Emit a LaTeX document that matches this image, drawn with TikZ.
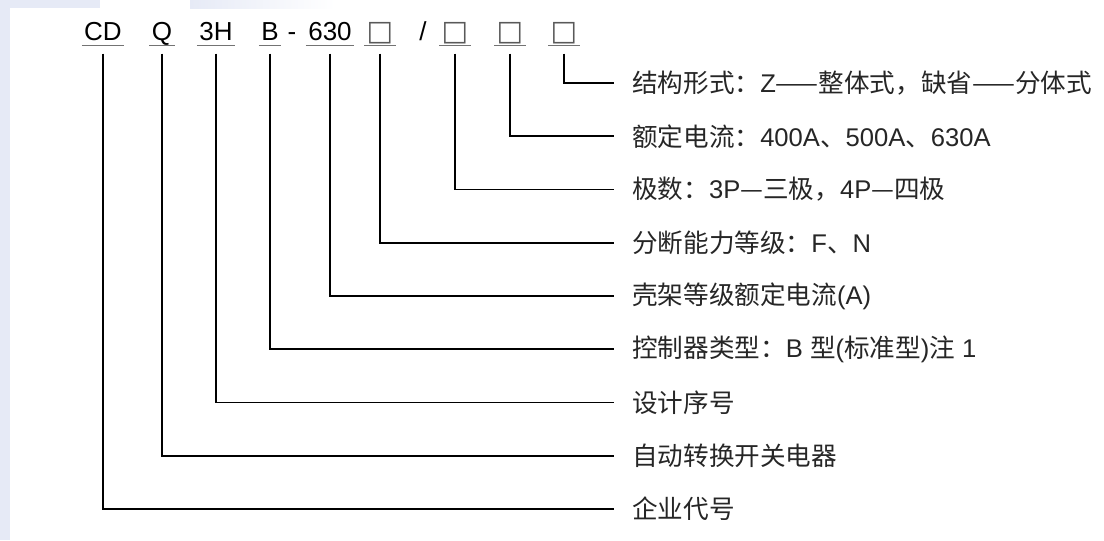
\documentclass[tikz,border=0pt]{standalone}
\usepackage{fontspec}
\setmainfont{Liberation Sans}
\newfontfamily\cjk{Noto Sans CJK SC}
\newfontfamily\symf{DejaVu Sans}
\definecolor{slidebg}{RGB}{230,234,246}
\newcommand{\sqmark}{{\symf\color{black!65}□}}
\tikzset{
  code/.style={inner xsep=1.5pt,inner ysep=3.5pt,text height=13.3pt,text depth=0pt,font=\fontsize{18.5}{22}\selectfont},
  sqcode/.style={code,minimum width=0.68cm,font=\fontsize{20}{22}\selectfont},
  uline/.style={draw=black!55,line width=1pt},
  link/.style={draw=black,line width=1.35pt,shorten >=0.45cm},
  lbl/.style={anchor=west,inner sep=0pt,text=black!85,font=\fontsize{18.2}{22}\selectfont}
}
\begin{document}
\begin{tikzpicture}[x=0.025cm,y=-0.025cm]
			% slide background
			\useasboundingbox (0,0) rectangle (1104,540);
			\fill[white] (0,0) rectangle (1104,540);
			\fill[slidebg] (0,0) rectangle (10,540);
			\fill[slidebg] (0,0) rectangle (100,8);
			\shade[left color=slidebg,right color=white] (190,0) rectangle (335,8);
			% model code
			\node[code] (cd) at (103,31){CD};
			\node[code] (q) at (162,31){Q};
			\node[code] (h3) at (216,31){3H};
			\node[code] (b) at (270,31){B};
			\node[code,inner xsep=0pt] (dash) at (292,31){-};
			\node[code] (k630) at (330,31){630};
			\node[code,inner xsep=0pt] (slash) at (423,31){/};
			\foreach\x/\n in {380/s1,455/s2,510/s3,564/s4}{
				\node[sqcode] (\n) at (\x,31){\sqmark};
			}
			\foreach\n in {cd,q,h3,b,k630,s1,s2,s3,s4}{
				\draw[uline] (\n.south west) to (\n.south east);
			}
			% meaning of each part
			\foreach\i/\txt [evaluate=\i as \y using {83+(\i-1)*53.25}] in {
				1/{{\cjk 结构形式：}Z{\cjk ——整体式，缺省——分体式}},
				2/{{\cjk 额定电流：}400A{\cjk 、}500A{\cjk 、}630A},
				3/{{\cjk 极数：}3P{\cjk —三极，}4P{\cjk —四极}},
				4/{{\cjk 分断能力等级：}F{\cjk 、}N},
				5/{{\cjk 壳架等级额定电流}(A)},
				6/{{\cjk 控制器类型：}B {\cjk 型}({\cjk 标准型}){\cjk 注} 1},
				7/{{\cjk 设计序号}},
				8/{{\cjk 自动转换开关电器}},
				9/{{\cjk 企业代号}}}{
				\node[lbl] (l\i) at (632,\y){\txt};
			}
			\foreach\n/\l in {s4/l1,s3/l2,s2/l3,s1/l4,k630/l5,b/l6,h3/l7,q/l8,cd/l9}{
				\draw[link] ([yshift=-0.2cm]\n.south) |- (\l.west);
			}
\end{tikzpicture}
\end{document}
